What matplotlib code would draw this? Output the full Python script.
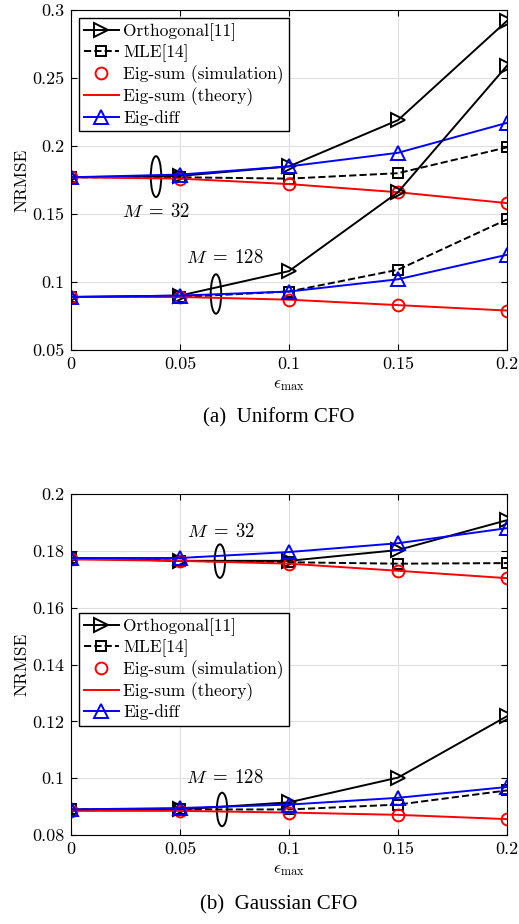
import matplotlib.pyplot as plt
import matplotlib.ticker as mticker
from matplotlib.patches import Ellipse

plt.rcParams['font.family'] = ['cmr10', 'DejaVu Serif']
plt.rcParams['mathtext.fontset'] = 'cm'
plt.rcParams['axes.formatter.use_mathtext'] = True
plt.rcParams['axes.unicode_minus'] = False

eps = [0, 0.05, 0.1, 0.15, 0.2]

# (a) Uniform CFO
u32_orth = [0.177, 0.178, 0.185, 0.219, 0.292]
u32_mle = [0.177, 0.177, 0.176, 0.180, 0.199]
u32_sim = [0.177, 0.176, 0.172, 0.166, 0.158]
u32_theory = [0.177, 0.176, 0.172, 0.166, 0.158]
u32_diff = [0.177, 0.179, 0.185, 0.195, 0.217]

u128_orth = [0.089, 0.090, 0.108, 0.166, 0.259]
u128_mle = [0.089, 0.089, 0.093, 0.109, 0.146]
u128_sim = [0.089, 0.089, 0.087, 0.083, 0.079]
u128_theory = [0.089, 0.089, 0.087, 0.083, 0.079]
u128_diff = [0.089, 0.090, 0.093, 0.102, 0.120]

# (b) Gaussian CFO
g32_orth = [0.1775, 0.1765, 0.1765, 0.1803, 0.1908]
g32_mle = [0.1775, 0.1765, 0.176, 0.1755, 0.1757]
g32_sim = [0.177, 0.1765, 0.1755, 0.173, 0.1704]
g32_theory = [0.177, 0.1765, 0.1755, 0.173, 0.1704]
g32_diff = [0.1775, 0.1775, 0.1796, 0.1827, 0.188]

g128_orth = [0.089, 0.089, 0.0915, 0.1002, 0.1218]
g128_mle = [0.089, 0.089, 0.089, 0.0907, 0.0957]
g128_sim = [0.0885, 0.0885, 0.0879, 0.0871, 0.0856]
g128_theory = [0.0885, 0.0885, 0.0879, 0.0871, 0.0856]
g128_diff = [0.089, 0.0895, 0.0907, 0.0931, 0.0969]

labels = ['Orthogonal[11]', 'MLE[14]', 'Eig-sum (simulation)',
          'Eig-sum (theory)', 'Eig-diff']


def draw(ax, sets):
    for i, (orth, mle, sim, th, diff) in enumerate(sets):
        lab = labels if i == 0 else [None] * 5
        ax.plot(eps, orth, 'k-', marker='>', ms=9.5, mfc='none', mew=1.4, lw=1.4, label=lab[0])
        ax.plot(eps, mle, 'k--', marker='s', ms=6.5, mfc='none', mew=1.4, lw=1.4, label=lab[1])
        ax.plot(eps, sim, 'o', color='r', ms=8.5, mfc='none', mew=1.4, label=lab[2])
        ax.plot(eps, th, 'r-', lw=1.4, label=lab[3])
        ax.plot(eps, diff, 'b-', marker='^', ms=9.5, mfc='none', mew=1.4, lw=1.4, label=lab[4])


def style(ax):
    ax.set_xlim(0, 0.2)
    ax.set_xticks(eps)
    ax.xaxis.set_major_formatter(mticker.FuncFormatter(lambda v, p: '%g' % v))
    ax.yaxis.set_major_formatter(mticker.FuncFormatter(lambda v, p: '%g' % round(v, 4)))
    ax.grid(True, color='#dedede', lw=0.8)
    ax.set_axisbelow(True)
    ax.tick_params(direction='in', top=True, right=True, labelsize=13, length=4, pad=5)
    for s in ax.spines.values():
        s.set_linewidth(0.8)
    ax.set_xlabel(r'$\epsilon_{\max}$', fontsize=12.5, labelpad=4)
    ax.set_ylabel('NRMSE', fontsize=12.5, labelpad=2)


def legend(ax, top):
    ax.legend(loc='upper left', bbox_to_anchor=(0.0, top), fontsize=12.5, handlelength=2.0,
              handletextpad=0.25, labelspacing=0.2, borderpad=0.3, fancybox=False,
              edgecolor='k', framealpha=1, borderaxespad=0.45)


fig = plt.figure(figsize=(5.19, 9.24), dpi=100)
ax1 = fig.add_axes([0.1368, 0.6212, 0.840, 0.368])
ax2 = fig.add_axes([0.1368, 0.0963, 0.840, 0.369])

draw(ax1, [(u32_orth, u32_mle, u32_sim, u32_theory, u32_diff),
           (u128_orth, u128_mle, u128_sim, u128_theory, u128_diff)])
style(ax1)
ax1.set_ylim(0.05, 0.3)
ax1.set_yticks([0.05, 0.1, 0.15, 0.2, 0.25, 0.3])
ax1.add_patch(Ellipse((0.039, 0.1775), 0.0048, 0.030, fill=False, ec='k', lw=1.4))
ax1.add_patch(Ellipse((0.0665, 0.0912), 0.0048, 0.029, fill=False, ec='k', lw=1.4))
ax1.text(0.039, 0.1515, r'$M\;=\;32$', ha='center', va='center', fontsize=13.5)
ax1.text(0.0707, 0.1176, r'$M\;=\;128$', ha='center', va='center', fontsize=13.5)
legend(ax1, 1.0)

draw(ax2, [(g32_orth, g32_mle, g32_sim, g32_theory, g32_diff),
           (g128_orth, g128_mle, g128_sim, g128_theory, g128_diff)])
style(ax2)
ax2.set_ylim(0.08, 0.2)
ax2.set_yticks([0.08, 0.1, 0.12, 0.14, 0.16, 0.18, 0.2])
ax2.add_patch(Ellipse((0.0683, 0.1764), 0.0048, 0.0118, fill=False, ec='k', lw=1.4))
ax2.add_patch(Ellipse((0.0693, 0.0890), 0.0048, 0.0118, fill=False, ec='k', lw=1.4))
ax2.text(0.069, 0.1866, r'$M\;=\;32$', ha='center', va='center', fontsize=13.5)
ax2.text(0.0707, 0.1001, r'$M\;=\;128$', ha='center', va='center', fontsize=13.5)
legend(ax2, 0.675)

fig.text(279 / 519, 1 - 418 / 924, '(a)  Uniform CFO', ha='center', va='center',
         fontsize=15, family='Liberation Serif')
fig.text(279 / 519, 1 - 905 / 924, '(b)  Gaussian CFO', ha='center', va='center',
         fontsize=15, family='Liberation Serif')

fig.savefig('out.png', dpi=100)
